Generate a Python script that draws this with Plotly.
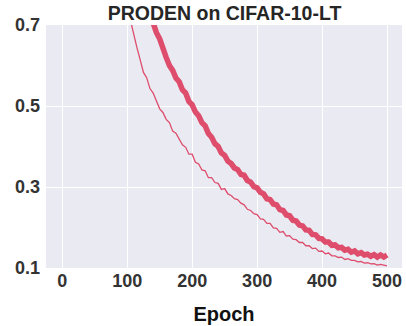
import plotly.graph_objects as go

thin_epochs = list(range(100, 505, 5))
thin_values = [0.745, 0.709, 0.681, 0.644, 0.614, 0.583, 0.570, 0.543, 0.532, 0.512,
               0.493, 0.484, 0.467, 0.459, 0.438, 0.433, 0.420, 0.404, 0.398, 0.381,
               0.381, 0.361, 0.357, 0.342, 0.340, 0.323, 0.323, 0.311, 0.309, 0.294,
               0.296, 0.283, 0.279, 0.271, 0.269, 0.260, 0.256, 0.245, 0.242, 0.234,
               0.232, 0.221, 0.220, 0.210, 0.210, 0.199, 0.198, 0.188, 0.190, 0.179,
               0.180, 0.171, 0.170, 0.163, 0.163, 0.155, 0.155, 0.148, 0.149, 0.141,
               0.142, 0.135, 0.137, 0.130, 0.130, 0.126, 0.127, 0.121, 0.123, 0.119,
               0.119, 0.115, 0.116, 0.112, 0.113, 0.110, 0.111, 0.107, 0.109, 0.106,
               0.105]

thick_epochs = list(range(130, 505, 5))
thick_values = [0.752, 0.726, 0.705, 0.681, 0.666, 0.639, 0.620, 0.600, 0.588, 0.569,
                0.560, 0.540, 0.532, 0.511, 0.503, 0.485, 0.476, 0.459, 0.451, 0.432,
                0.423, 0.407, 0.400, 0.384, 0.378, 0.364, 0.358, 0.347, 0.343, 0.331,
                0.329, 0.316, 0.312, 0.301, 0.298, 0.287, 0.283, 0.271, 0.269, 0.258,
                0.256, 0.244, 0.242, 0.231, 0.229, 0.218, 0.216, 0.206, 0.204, 0.194,
                0.193, 0.183, 0.182, 0.173, 0.172, 0.164, 0.164, 0.156, 0.157, 0.150,
                0.151, 0.144, 0.146, 0.139, 0.142, 0.135, 0.138, 0.132, 0.134, 0.129,
                0.133, 0.127, 0.132, 0.127, 0.132]

x_ticks = [0, 100, 200, 300, 400, 500]
y_ticks = [0.1, 0.3, 0.5, 0.7]
y_tick_labels = ["0.1", "0.3", "0.5", "0.7"]

color = "#DE4D6C"
font_family = "Liberation Sans, Arial, sans-serif"

fig = go.Figure()
fig.add_trace(go.Scatter(x=thin_epochs, y=thin_values, mode="lines",
                         line=dict(color=color, width=1.3), showlegend=False))
fig.add_trace(go.Scatter(x=thick_epochs, y=thick_values, mode="lines",
                         line=dict(color=color, width=5.5), showlegend=False))

fig.update_layout(
    width=406, height=326,
    margin=dict(l=46, r=4, t=25, b=58),
    paper_bgcolor="white",
    plot_bgcolor="#EAEAF2",
    title=dict(text="<b>PRODEN on CIFAR-10-LT</b>", x=0.553, xanchor="center",
               y=0.96, yanchor="middle",
               font=dict(family=font_family, size=19.5, color="#262626")),
    xaxis=dict(range=[-25, 523], tickvals=x_ticks, ticktext=[f"<b>{v}</b>" for v in x_ticks],
               showgrid=True, gridcolor="white", gridwidth=1, zeroline=False,
               showline=False, ticks="", ticklen=0,
               tickfont=dict(family=font_family, size=18, color="#333333"),
               title=dict(text="<b>Epoch</b>", standoff=16,
                          font=dict(family=font_family, size=20, color="#111111"))),
    yaxis=dict(range=[0.1, 0.7], tickvals=y_ticks, ticktext=[f"<b>{t}</b>" for t in y_tick_labels],
               showgrid=True, gridcolor="white", gridwidth=1, zeroline=False,
               showline=False, ticks="", ticklen=0, ticklabelstandoff=5,
               tickfont=dict(family=font_family, size=18, color="#333333")),
)

fig.write_html("out.html")
